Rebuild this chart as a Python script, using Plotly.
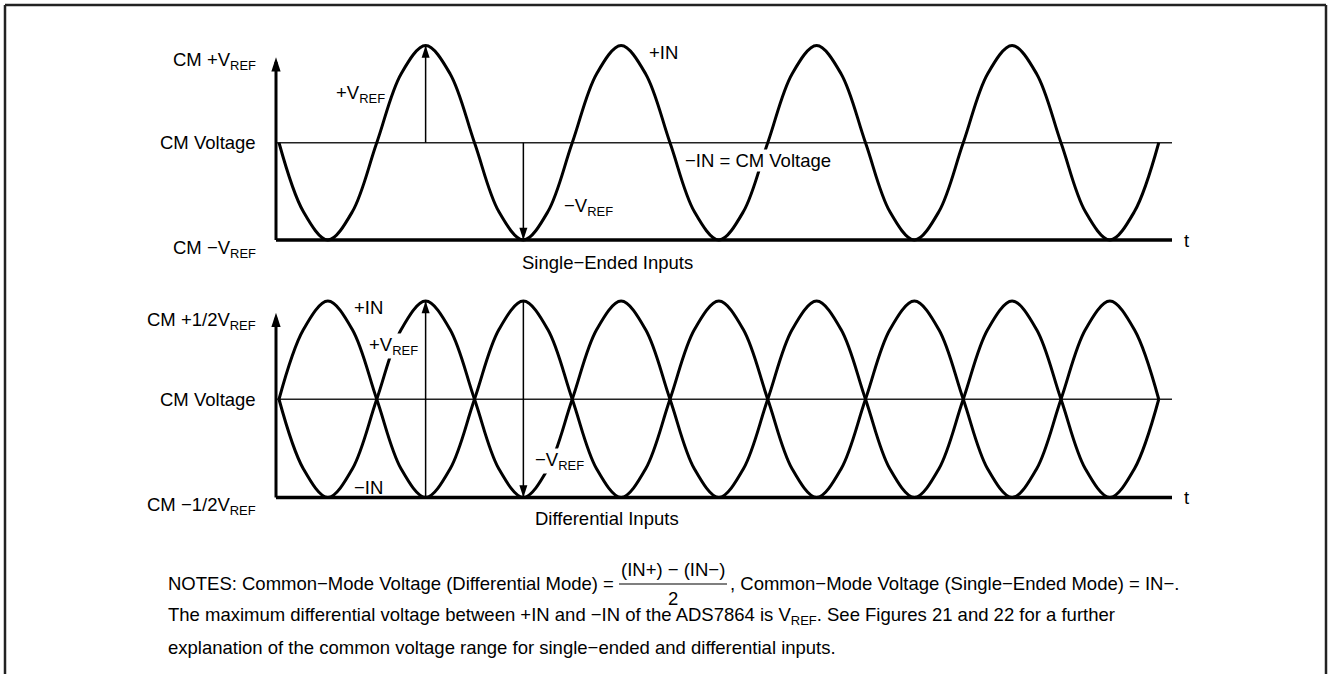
import plotly.graph_objects as go

W, H = 1333, 674
FONT = "Liberation Sans, Arial, Helvetica, sans-serif"
FS = 18.5

# ---------------- data ----------------
# time, in periods of the input sine (samples every 1/8 period)
t = [0.000, 0.125, 0.250, 0.375, 0.500, 0.625, 0.750, 0.875,
     1.000, 1.125, 1.250, 1.375, 1.500, 1.625, 1.750, 1.875,
     2.000, 2.125, 2.250, 2.375, 2.500, 2.625, 2.750, 2.875,
     3.000, 3.125, 3.250, 3.375, 3.500, 3.625, 3.750, 3.875,
     4.000, 4.125, 4.250, 4.375, 4.500]

# single-ended +IN, relative to CM voltage, in units of VREF
se_pos_in = [0, -0.71, -1, -0.71, 0, 0.71, 1, 0.71,
             0, -0.71, -1, -0.71, 0, 0.71, 1, 0.71,
             0, -0.71, -1, -0.71, 0, 0.71, 1, 0.71,
             0, -0.71, -1, -0.71, 0, 0.71, 1, 0.71,
             0, -0.71, -1, -0.71, 0]

# differential +IN and -IN, relative to CM voltage, in units of 1/2 VREF
diff_pos_in = [0, 0.71, 1, 0.71, 0, -0.71, -1, -0.71,
               0, 0.71, 1, 0.71, 0, -0.71, -1, -0.71,
               0, 0.71, 1, 0.71, 0, -0.71, -1, -0.71,
               0, 0.71, 1, 0.71, 0, -0.71, -1, -0.71,
               0, 0.71, 1, 0.71, 0]
diff_neg_in = [0, -0.71, -1, -0.71, 0, 0.71, 1, 0.71,
               0, -0.71, -1, -0.71, 0, 0.71, 1, 0.71,
               0, -0.71, -1, -0.71, 0, 0.71, 1, 0.71,
               0, -0.71, -1, -0.71, 0, 0.71, 1, 0.71,
               0, -0.71, -1, -0.71, 0]

# reference arrows: time, tail level, tip level
se_arrow_t = [0.75, 1.25]
se_arrow_from = [0, 0]
se_arrow_to = [1, -1]
diff_arrow_t = [0.75, 1.25]
diff_arrow_from = [-1, 1]
diff_arrow_to = [1, -1]

# levels
cm_level = 0
low_level = -1
axis_tip_level = 0.88

# y-axis labels
se_ticktext = ["CM +V<sub>REF</sub>", "CM Voltage", "CM \u2212V<sub>REF</sub>"]
diff_ticktext = ["CM +1/2V<sub>REF</sub>", "CM Voltage", "CM \u22121/2V<sub>REF</sub>"]

# ---------------- geometry (pixels) ----------------
T0_PX, PERIOD_PX = 279.0, 195.5
AX_X0_PX, AX_X1_PX = 276.0, 1172.0
t_axis0 = (AX_X0_PX - T0_PX) / PERIOD_PX
t_axis1 = (AX_X1_PX - T0_PX) / PERIOD_PX
DOM_X0, DOM_X1 = 262.0, 1190.0
xr = [(DOM_X0 - T0_PX) / PERIOD_PX, (DOM_X1 - T0_PX) / PERIOD_PX]


def ydomain(top_px, bot_px, pad=0.12):
    unit = (bot_px - top_px) / 2.0
    mid = (bot_px + top_px) / 2.0
    a = mid - (1 + pad) * unit
    b = mid + (1 + pad) * unit
    return [1 - b / H, 1 - a / H], [-(1 + pad), 1 + pad]


top_dom, top_rng = ydomain(45.5, 240.0)
bot_dom, bot_rng = ydomain(301.0, 497.5)


def px(x):
    return x / W


def py(y):
    return 1 - y / H


fig = go.Figure()


def add_panel(xa, ya, curves):
    fig.add_trace(go.Scatter(x=[t_axis0, t_axis1], y=[cm_level, cm_level], mode="lines",
                             line=dict(color="#222", width=1.5), xaxis=xa, yaxis=ya,
                             hoverinfo="skip", showlegend=False))
    fig.add_trace(go.Scatter(x=[t_axis0, t_axis1], y=[low_level, low_level], mode="lines",
                             line=dict(color="black", width=3.5), xaxis=xa, yaxis=ya,
                             hoverinfo="skip", showlegend=False))
    fig.add_trace(go.Scatter(x=[t_axis0, t_axis0], y=[low_level, axis_tip_level - 0.05],
                             mode="lines", line=dict(color="black", width=3),
                             xaxis=xa, yaxis=ya, hoverinfo="skip", showlegend=False))
    fig.add_trace(go.Scatter(x=[t_axis0], y=[axis_tip_level], mode="markers",
                             marker=dict(symbol="arrow", size=15, color="black", angle=0,
                                         line=dict(width=0)),
                             xaxis=xa, yaxis=ya, hoverinfo="skip", showlegend=False))
    for ys in curves:
        fig.add_trace(go.Scatter(x=t, y=ys, mode="lines",
                                 line=dict(color="black", width=3, shape="spline", smoothing=1.0),
                                 xaxis=xa, yaxis=ya, hoverinfo="skip", showlegend=False))


def add_arrows(xa, ya, at, a_from, a_to):
    for tt, f, to in zip(at, a_from, a_to):
        fig.add_trace(go.Scatter(x=[tt, tt], y=[f, to], mode="lines",
                                 line=dict(color="black", width=1.5),
                                 xaxis=xa, yaxis=ya, hoverinfo="skip", showlegend=False))
        fig.add_trace(go.Scatter(x=[tt], y=[to], mode="markers",
                                 marker=dict(symbol="arrow", size=13, color="black",
                                             angle=0 if to > f else 180, line=dict(width=0)),
                                 xaxis=xa, yaxis=ya, hoverinfo="skip", showlegend=False))


add_panel("x", "y", [se_pos_in])
add_arrows("x", "y", se_arrow_t, se_arrow_from, se_arrow_to)
add_panel("x2", "y2", [diff_pos_in, diff_neg_in])
add_arrows("x2", "y2", diff_arrow_t, diff_arrow_from, diff_arrow_to)

ann = []


def label(text, x, y, xanchor="left", bg=None, size=FS):
    d = dict(text=text, x=px(x), y=py(y), xref="paper", yref="paper",
             xanchor=xanchor, yanchor="middle", showarrow=False,
             font=dict(family=FONT, size=size, color="black"))
    if bg:
        d["bgcolor"] = bg
        d["borderpad"] = 0
    ann.append(d)


# left labels (centre of the main text line, subscript pushes box down)
left_top_y = [61, 143, 249]
left_bot_y = [321, 400, 506]
for txt, yy in zip(se_ticktext, left_top_y):
    label(txt, 258, yy, xanchor="right")
for txt, yy in zip(diff_ticktext, left_bot_y):
    label(txt, 258, yy, xanchor="right")

# top panel labels
label("+V<sub>REF</sub>", 334, 94)
label("+IN", 647, 52)
label("\u2212IN = CM Voltage", 684, 160, bg="white")
label("\u2212V<sub>REF</sub>", 562, 207)
label("t", 1182, 241)
label("Single\u2212Ended Inputs", 607, 262, xanchor="center")

# bottom panel labels
label("+IN", 352, 307)
label("+V<sub>REF</sub>", 368, 346, bg="white")
label("\u2212IN", 352, 487)
label("\u2212V<sub>REF</sub>", 534, 461, bg="white")
label("t", 1182, 497)
label("Differential Inputs", 607, 518, xanchor="center")

# notes
NX = 166
label("NOTES: Common\u2212Mode Voltage (Differential Mode) =", NX, 583)
label("(IN+) \u2212 (IN\u2212)", 673, 569, xanchor="center")
label("2", 673, 598, xanchor="center")
label(", Common\u2212Mode Voltage (Single\u2212Ended Mode) = IN\u2212.", 728, 583)
label("The maximum differential voltage between +IN and \u2212IN of the ADS7864 is V<sub>REF</sub>. "
      "See Figures 21 and 22 for a further", NX, 616)
label("explanation of the common voltage range for single\u2212ended and differential inputs.", NX, 647)

shapes = [
    dict(type="line", xref="paper", yref="paper", x0=px(619), x1=px(727), y0=py(584), y1=py(584),
         line=dict(color="black", width=1.2)),
    dict(type="line", xref="paper", yref="paper", x0=px(5), x1=px(1326), y0=py(5), y1=py(5),
         line=dict(color="#222", width=2.5)),
    dict(type="line", xref="paper", yref="paper", x0=px(5), x1=px(5), y0=py(5), y1=py(H),
         line=dict(color="#222", width=2.5)),
    dict(type="line", xref="paper", yref="paper", x0=px(1326), x1=px(1326), y0=py(5), y1=py(H),
         line=dict(color="#222", width=2.5)),
]

axis_common = dict(visible=False, fixedrange=True)
fig.update_layout(
    width=W, height=H,
    margin=dict(l=0, r=0, t=0, b=0),
    paper_bgcolor="white", plot_bgcolor="white",
    showlegend=False,
    hovermode=False,
    xaxis=dict(domain=[px(DOM_X0), px(DOM_X1)], range=xr, **axis_common),
    yaxis=dict(domain=top_dom, range=top_rng, **axis_common),
    xaxis2=dict(domain=[px(DOM_X0), px(DOM_X1)], range=xr, anchor="y2", **axis_common),
    yaxis2=dict(domain=bot_dom, range=bot_rng, anchor="x2", **axis_common),
    annotations=ann,
    shapes=shapes,
    font=dict(family=FONT, size=FS, color="black"),
)

fig.write_html("out.html",
               config={"displayModeBar": False, "staticPlot": True},
               post_script="document.body.style.margin='0';document.body.style.padding='0';")
